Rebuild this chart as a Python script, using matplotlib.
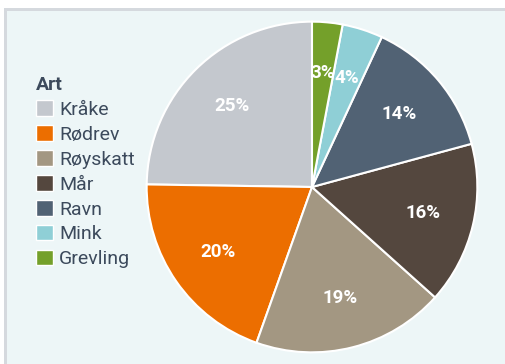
import matplotlib
matplotlib.use("Agg")
import matplotlib.pyplot as plt
from matplotlib.patches import Patch, Rectangle

species = ["Kråke", "Rødrev", "Røyskatt", "Mår", "Ravn", "Mink", "Grevling"]
shares = [25, 20, 19, 16, 14, 4, 3]
colors = ["#C4C8CE", "#EC6E00", "#A39782", "#54473E", "#516274", "#8FCFD6", "#74A02A"]

plt.rcParams["font.family"] = ["Roboto", "DejaVu Sans"]
text_color = "#3C4A5C"

W, H = 506, 364
fig = plt.figure(figsize=(W / 100, H / 100), dpi=100)
fig.patch.set_facecolor("white")

# panel with a thin grey frame on top and left
fig.add_artist(Rectangle((4 / W, 0), 1, 1 - 8 / H, transform=fig.transFigure,
                         facecolor="#D5D9DE", edgecolor="none", zorder=0))
fig.add_artist(Rectangle((7 / W, 0), 1, 1 - 11 / H, transform=fig.transFigure,
                         facecolor="#EDF6F7", edgecolor="none", zorder=0))

cx, cy, r = 312, 187, 167
ax = fig.add_axes([(cx - r) / W, (H - cy - r) / H, 2 * r / W, 2 * r / H])
ax.set_facecolor("none")

total = sum(shares)
wedges, _, autotexts = ax.pie(
    shares, colors=colors, startangle=90, counterclock=True,
    autopct=lambda p: f"{round(p * total / 100)}%", pctdistance=0.69,
    wedgeprops=dict(edgecolor="white", linewidth=1.5),
    textprops=dict(color="white", fontsize=13.5, fontweight="bold"),
)
ax.set_xlim(-1.01, 1.01)
ax.set_ylim(-1.01, 1.01)

handles = [Patch(facecolor=c, edgecolor="white", linewidth=1) for c in colors]
leg = fig.legend(handles, species, loc="upper left",
                 bbox_to_anchor=(36 / W, 1 - 76 / H), frameon=False,
                 title="Art", fontsize=14, title_fontsize=14,
                 handlelength=0.85, handleheight=0.85, handletextpad=0.35,
                 labelspacing=0.33, borderaxespad=0, borderpad=0)
leg._legend_box.align = "left"
leg.get_title().set_fontweight("bold")
leg.get_title().set_color(text_color)
for t in leg.get_texts():
    t.set_color(text_color)

fig.savefig("out.png", dpi=100)
